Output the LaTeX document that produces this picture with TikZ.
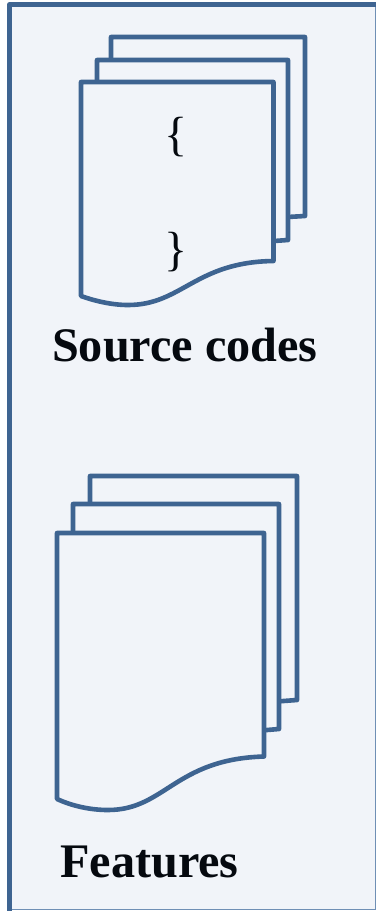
\documentclass[tikz,border=0pt]{standalone}
\usepackage{fontspec}
\setmainfont{Liberation Serif}
\definecolor{docblue}{HTML}{3E6491}
\definecolor{panelfill}{HTML}{F1F4F9}
\definecolor{framethin}{HTML}{6F8FB5}
\definecolor{inkdark}{HTML}{05090F}
\tikzset{
  sheet/.style={draw=docblue,fill=panelfill,line width=4.6pt,line join=round},
  titletext/.style={inner sep=0pt,anchor=base west,text=inkdark,font=\fontsize{48.2}{50}\selectfont\bfseries},
  bracetext/.style={inner sep=0pt,anchor=base,text=inkdark,font=\fontsize{48}{50}\selectfont}
}
\begin{document}
\begin{tikzpicture}[x=1pt,y=-1pt]
\useasboundingbox (0,0) rectangle (376,911);
\fill[white] (0,0) rectangle (376,911);
\fill[panelfill] (9,4) rectangle (376,910);
\draw[framethin,line width=1.2pt] (375.4,5) -- (375.4,909.4) -- (9,909.4);
\draw[docblue,line width=4.4pt,line join=round] (9.5,911) -- (9.5,4.5) -- (376,4.5);
% upper stack
\draw[sheet] (111,37) -- (305,37) -- (305,216) -- (270,218) -- (111,218) -- cycle;
\draw[sheet] (97,60) -- (288,60) -- (288,240) -- (260,242) -- (97,242) -- cycle;
\draw[sheet] (81,82) -- (273.5,82) -- (273.5,261)
  .. controls (195,262) and (182,305) .. (128,305)
  .. controls (110,305) and (92,300) .. (81,296) -- cycle;
\node[bracetext] (openb) at (176.5,150) {\{};
\node[bracetext] (closeb) at (176.5,265) {\}};
\node[titletext] (src) at (52,361) {Source codes};
% lower stack
\draw[sheet] (90,476) -- (297,476) -- (297,700) -- (270,702) -- (90,702) -- cycle;
\draw[sheet] (73,504) -- (279,504) -- (279,729) -- (255,731) -- (73,731) -- cycle;
\draw[sheet] (57,533) -- (264,533) -- (264,756.5)
  .. controls (175,759) and (165,810) .. (108,810)
  .. controls (88,810) and (70,805) .. (57,799) -- cycle;
\node[titletext] (feat) at (60,877) {Features};
\end{tikzpicture}
\end{document}
